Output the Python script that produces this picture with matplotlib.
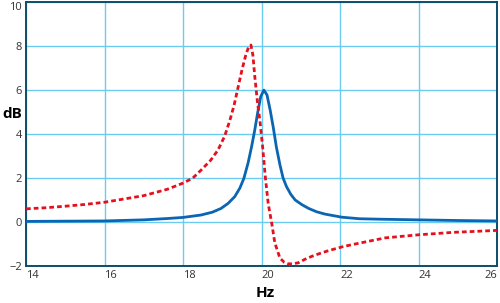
import matplotlib
matplotlib.use("Agg")
import matplotlib.pyplot as plt

# blue curve (solid)
hz_blue = [14, 15, 16, 17, 17.6, 18, 18.46, 18.75, 18.97, 19.15, 19.32, 19.45, 19.55, 19.66,
           19.75, 19.83, 19.9, 19.98, 20.06, 20.14, 20.22, 20.3, 20.38, 20.47, 20.55, 20.64,
           20.75, 20.86, 21.03, 21.2, 21.4, 21.62, 22.05, 22.5, 23, 24, 25, 26]
db_blue = [0.03, 0.04, 0.05, 0.1, 0.16, 0.21, 0.32, 0.45, 0.62, 0.85, 1.16, 1.55, 1.98, 2.7,
           3.45, 4.2, 4.95, 5.7, 6.0, 5.78, 5.1, 4.3, 3.4, 2.6, 2.0, 1.6,
           1.25, 1.0, 0.79, 0.62, 0.47, 0.36, 0.22, 0.15, 0.13, 0.1, 0.07, 0.05]

# red curve (dotted)
hz_red = [14, 14.5, 15, 15.5, 16, 16.5, 17, 17.6, 18, 18.25, 18.46, 18.7, 18.89, 19.06, 19.19,
          19.3, 19.4, 19.5, 19.6, 19.68, 19.73, 19.78, 19.83, 19.9, 19.96, 20.03, 20.1, 20.17,
          20.26, 20.34, 20.47, 20.58, 20.68, 20.8, 20.94, 21.1, 21.28, 21.5, 21.71, 22.05, 22.3,
          23.15, 24, 24.87, 26]
db_red = [0.6, 0.65, 0.72, 0.8, 0.9, 1.05, 1.2, 1.49, 1.77, 2.0, 2.36, 2.8, 3.27, 3.9, 4.6,
          5.3, 6.1, 6.9, 7.6, 8.0, 8.05, 7.6, 6.6, 5.4, 4.6, 3.4, 2.0, 0.85,
          -0.05, -0.95, -1.64, -1.83, -1.9, -1.9, -1.85, -1.7, -1.56, -1.42, -1.3, -1.13, -1.03,
          -0.72, -0.58, -0.47, -0.38]

x_ticks = [14, 16, 18, 20, 22, 24, 26]
y_ticks = [-2, 0, 2, 4, 6, 8, 10]

frame = '#0d4d6b'
grid = '#6ccbf0'
label_col = '#333333'

plt.rcParams['font.family'] = ['Open Sans', 'DejaVu Sans']

fig = plt.figure(figsize=(5, 3.03), dpi=100)
ax = fig.add_axes([0.052, 0.122, 0.942, 0.871])

ax.plot(hz_blue, db_blue, color='#0a66b2', lw=2.0, zorder=3)
ax.plot(hz_red, db_red, color='#e5101e', lw=2.0, linestyle=(0, (1.7, 1.1)), zorder=4)

ax.set_xlim(14, 26)
ax.set_ylim(-2, 10)
ax.set_xticks(x_ticks)
ax.set_yticks(y_ticks)
ax.set_yticklabels(['\u22122' if v < 0 else str(v) for v in y_ticks])
ax.grid(True, color=grid, lw=1.0)
ax.set_axisbelow(True)
ax.tick_params(length=0, labelsize=8, labelcolor=label_col, pad=3)

for lab in ax.get_xticklabels():
    lab.set_ha('left')
ax.get_xticklabels()[-1].set_ha('right')
ax.get_yticklabels()[-1].set_va('top')

for s in ax.spines.values():
    s.set_color(frame)
    s.set_linewidth(1.4)

fig.text(0.004, 0.625, 'dB', fontsize=11, fontweight='bold', ha='left', va='center')
fig.text(0.53, 0.033, 'Hz', fontsize=11, fontweight='bold', ha='center', va='center')

fig.savefig('out.png', dpi=100)
